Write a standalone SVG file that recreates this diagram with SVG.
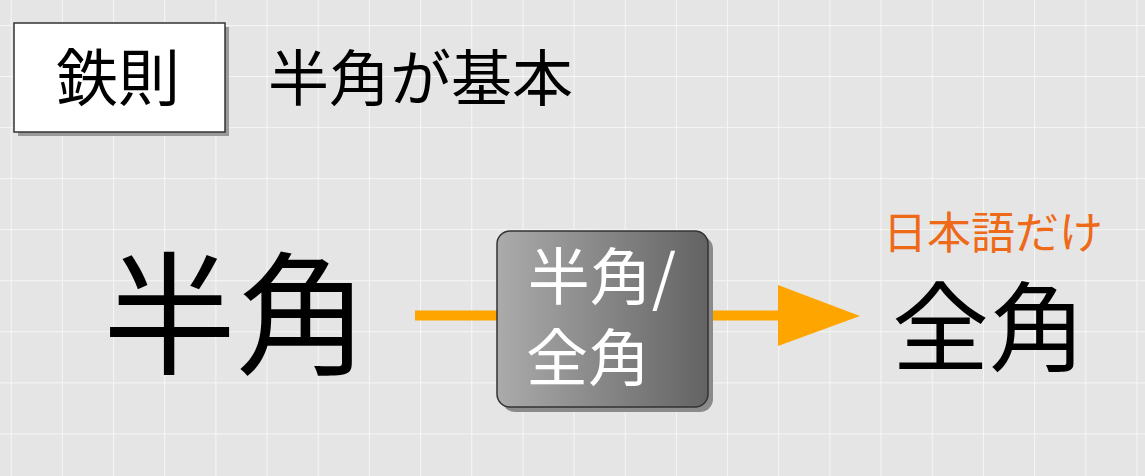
<svg xmlns="http://www.w3.org/2000/svg" width="1145" height="476" viewBox="0 0 1145 476">
<defs>
<pattern id="grid" x="10.7" y="25" width="51.17" height="51.05" patternUnits="userSpaceOnUse">
<path d="M0 0V51.05M0 0H51.17" fill="none" stroke="#f6f6f6" stroke-width="2"/>
</pattern>
<linearGradient id="boxg" x1="0" y1="0" x2="1" y2="0">
<stop offset="0" stop-color="#ababab"/>
<stop offset="1" stop-color="#636363"/>
</linearGradient>
</defs>
<style>
.jp{font-family:"Noto Sans CJK JP","Noto Sans CJK SC",sans-serif;}
.blk{fill:#000;}
</style>
<rect width="1145" height="476" fill="#e5e5e5"/>
<rect width="1145" height="476" fill="url(#grid)"/>
<g id="rule">
<rect x="18" y="27" width="211" height="109" fill="#9a9a9a"/>
<rect x="14" y="23" width="211" height="109" fill="#fff" stroke="#333" stroke-width="1.5"/>
<text class="jp blk" x="118" y="101" font-size="62" text-anchor="middle">鉄則</text>
</g>
<g id="title">
<text class="jp blk" x="268" y="101" font-size="61">半角が基本</text>
</g>
<g id="src">
<text class="jp blk" x="236" y="364" font-size="133" text-anchor="middle">半角</text>
</g>
<g id="connectors">
<line x1="415" y1="315.5" x2="500" y2="315.5" stroke="#ffa500" stroke-width="10"/>
<line x1="705" y1="315.5" x2="782" y2="315.5" stroke="#ffa500" stroke-width="10"/>
<polygon points="778,285 860,316 778,346" fill="#ffa500"/>
</g>
<g id="conv">
<rect x="502" y="236" width="211" height="176" rx="13" fill="#8a8a8a"/>
<rect x="497" y="231" width="211" height="176" rx="13" fill="url(#boxg)" stroke="#333" stroke-width="1.5"/>
<text class="jp" x="602" y="300" font-size="62" fill="#fff" text-anchor="middle">半角/</text>
<text class="jp" x="588" y="381" font-size="62" fill="#fff" text-anchor="middle">全角</text>
</g>
<g id="dst">
<text class="jp" x="993" y="249" font-size="44" fill="#ee6a18" text-anchor="middle">日本語だけ</text>
<text class="jp blk" x="989" y="363" font-size="97" text-anchor="middle">全角</text>
</g>
</svg>
